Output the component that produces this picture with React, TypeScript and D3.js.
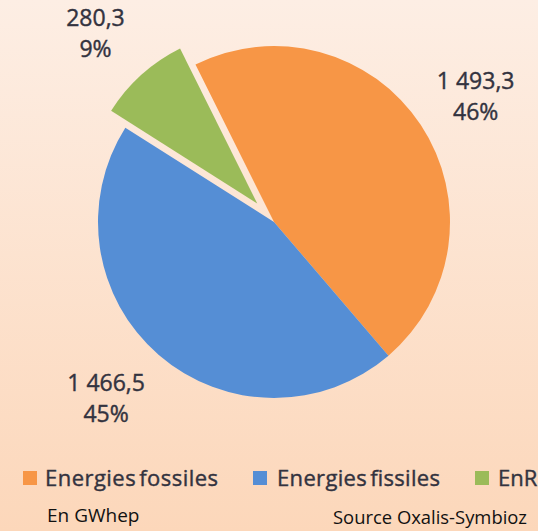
import React from "react";
import * as d3 from "d3";

const categories = ["Energies fossiles", "Energies fissiles", "EnR"];
const values = [1493.3, 1466.5, 280.3];
const colors = ["#F79646", "#558ED5", "#9BBB59"];
const unitNote = "En GWhep";
const sourceNote = "Source Oxalis-Symbioz";

const W = 538;
const H = 531;
const CX = 274;
const CY = 222;
const R = 176;
const EXPLODE = [0, 0, 25];
const RADIUS_EXPLODED = 173;
const START_DEG = -26.5;
// label placement relative to slice mid-angle
const LABEL_PLACE = [
  { dAngle: 3.5, r: 233 },
  { dAngle: 1.3, r: 250 },
  { dAngle: -2.8, r: 253 },
];
const LEGEND_X = [23, 253, 475];
const LEGEND_TEXT_DX = [22, 24, 23];

const locale = d3.formatLocale({
  decimal: ",",
  thousands: "\u00a0",
  grouping: [3],
  currency: ["", "€"],
});
const fmt = locale.format(",.1f");

export default function App() {
  const total = d3.sum(values);
  const pie = d3
    .pie<number>()
    .sort(null)
    .startAngle((START_DEG * Math.PI) / 180)
    .endAngle((START_DEG * Math.PI) / 180 + 2 * Math.PI)
    .value((d) => d);
  const arcs = pie(values);

  const fontFamily = "'Open Sans', 'DejaVu Sans', sans-serif";
  const textColor = "#33333f";

  return (
    <svg
      width={W}
      height={H}
      style={{ position: "absolute", left: 0, top: 0, display: "block" }}
    >
      <defs>
        <linearGradient id="bg" x1="0" y1="0" x2="0" y2="1">
          <stop offset="0%" stopColor="#FDEEE4" />
          <stop offset="100%" stopColor="#FCD7BA" />
        </linearGradient>
      </defs>
      <rect x={0} y={0} width={W} height={H} fill="url(#bg)" />
      <g>
        {arcs.map((a, i) => {
          const mid = (a.startAngle + a.endAngle) / 2;
          const off = EXPLODE[i];
          const dx = off * Math.sin(mid);
          const dy = -off * Math.cos(mid);
          const rr = off > 0 ? RADIUS_EXPLODED : R;
          const path = d3.arc<d3.PieArcDatum<number>>().innerRadius(0).outerRadius(rr)(a) || "";
          return (
            <path
              key={i}
              d={path}
              fill={colors[i]}
              transform={`translate(${CX + dx},${CY + dy})`}
            />
          );
        })}
      </g>
      <g
        fontFamily={fontFamily}
        fontSize={23}
        fill={textColor}
        stroke={textColor}
        strokeWidth={0.4}
        textAnchor="middle"
      >
        {arcs.map((a, i) => {
          const mid = (a.startAngle + a.endAngle) / 2 + (LABEL_PLACE[i].dAngle * Math.PI) / 180;
          const lr = LABEL_PLACE[i].r;
          const x = CX + lr * Math.sin(mid);
          const y = CY - 1 - lr * Math.cos(mid);
          const pct = Math.round((values[i] / total) * 100) + "%";
          return (
            <text key={i} x={x} y={y}>
              <tspan x={x} dy={-15.5}>{fmt(values[i])}</tspan>
              <tspan x={x} dy={31}>{pct}</tspan>
            </text>
          );
        })}
      </g>
      <g
        fontFamily={fontFamily}
        fontSize={22}
        fill={textColor}
        stroke={textColor}
        strokeWidth={0.4}
        wordSpacing={-3}
      >
        {categories.map((c, i) => (
          <g key={c} transform={`translate(${LEGEND_X[i]},471)`}>
            <rect x={0} y={0} width={14} height={14} fill={colors[i]} stroke="none" />
            <text x={LEGEND_TEXT_DX[i]} y={15} textLength={i === 0 ? 173 : i === 1 ? 163 : undefined} lengthAdjust="spacing">{c}</text>
          </g>
        ))}
      </g>
      <g fontFamily={fontFamily} fontSize={19} fill="#111">
        <text x={47} y={522}>{unitNote}</text>
        <text x={333} y={524} textLength={194} lengthAdjust="spacingAndGlyphs">{sourceNote}</text>
      </g>
    </svg>
  );
}
